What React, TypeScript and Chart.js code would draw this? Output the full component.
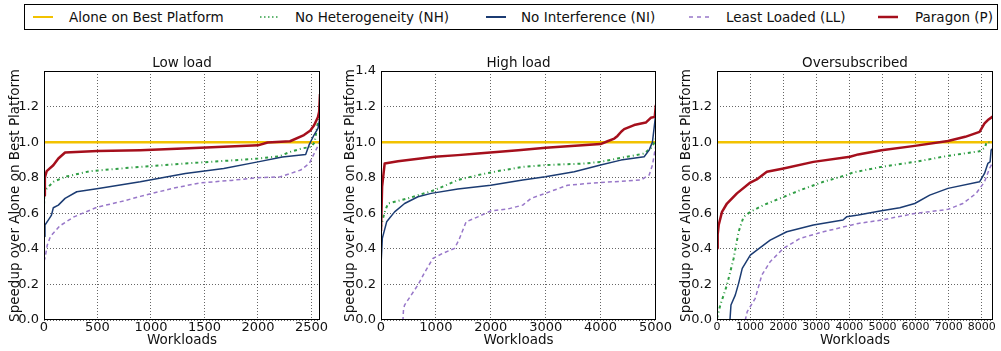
import React, { useEffect, useRef } from 'react';
import { Chart, registerables } from 'chart.js';

Chart.register(...registerables);

const FONT = '"DejaVu Sans", "Liberation Sans", sans-serif';

// ---- legend / series names ----
const seriesNames = ['Alone on Best Platform', 'No Heterogeneity (NH)', 'No Interference (NI)', 'Least Loaded (LL)', 'Paragon (P)'];
const panelTitles = ['Low load', 'High load', 'Oversubscribed'];
const xAxisTitle = 'Workloads';
const yAxisTitle = 'Speedup over Alone on Best Platform';

// ---- ticks ----
const yTicks = [0, 0.2, 0.4, 0.6, 0.8, 1.0, 1.2, 1.4];
const lowXTicks = [0, 500, 1000, 1500, 2000, 2500];
const highXTicks = [0, 1000, 2000, 3000, 4000, 5000];
const overXTicks = [0, 1000, 2000, 3000, 4000, 5000, 6000, 7000, 8000];
const lowXMax = 2580;
const highXMax = 5010;
const overXMax = 8340;
const aloneValue = 1.0;

// ---- Low load ----
const lowNH: [number, number][] = [[0, 0.65], [5, 0.7], [10, 0.73], [87, 0.777], [197, 0.805], [430, 0.837], [900, 0.861], [1320, 0.88], [1700, 0.895], [2000, 0.908], [2200, 0.92], [2300, 0.945], [2415, 0.965], [2500, 0.974], [2530, 1.0], [2555, 1.095], [2578, 1.15]];
const lowNI: [number, number][] = [[0, 0.47], [9, 0.534], [40, 0.562], [70, 0.59], [87, 0.631], [134, 0.646], [197, 0.684], [306, 0.721], [509, 0.74], [900, 0.777], [1321, 0.824], [1680, 0.852], [2000, 0.889], [2228, 0.917], [2446, 0.93], [2477, 0.983], [2524, 1.04], [2561, 1.077], [2580, 1.14]];
const lowLL: [number, number][] = [[0, 0.33], [10, 0.35], [30, 0.42], [60, 0.47], [150, 0.53], [280, 0.58], [500, 0.635], [750, 0.67], [900, 0.695], [1000, 0.71], [1200, 0.74], [1450, 0.77], [1750, 0.785], [2000, 0.8], [2210, 0.805], [2400, 0.843], [2480, 0.88], [2525, 0.935], [2578, 1.0]];
const lowP: [number, number][] = [[0, 0.7], [8, 0.8], [25, 0.837], [87, 0.87], [134, 0.908], [197, 0.942], [500, 0.95], [900, 0.955], [1300, 0.964], [2000, 0.982], [2090, 0.998], [2300, 1.005], [2430, 1.04], [2490, 1.065], [2525, 1.095], [2560, 1.14], [2572, 1.17], [2580, 1.27]];

// ---- High load ----
const highNH: [number, number][] = [[0, 0.52], [6, 0.534], [60, 0.6], [127, 0.655], [491, 0.684], [976, 0.73], [1400, 0.787], [1764, 0.815], [2127, 0.837], [2582, 0.861], [2994, 0.871], [3703, 0.88], [4000, 0.889], [4309, 0.908], [4794, 0.936], [4945, 0.974], [5008, 1.02]];
const highNI: [number, number][] = [[0, 0.31], [24, 0.459], [103, 0.552], [248, 0.608], [430, 0.655], [673, 0.693], [915, 0.712], [1400, 0.736], [2000, 0.757], [2582, 0.787], [2994, 0.805], [3521, 0.833], [4000, 0.871], [4370, 0.899], [4794, 0.918], [4885, 0.955], [4945, 1.0], [4987, 1.11], [5008, 1.17]];
const highLL: [number, number][] = [[0, 0], [400, 0], [410, 0.06], [430, 0.084], [550, 0.14], [673, 0.197], [800, 0.27], [945, 0.346], [1127, 0.375], [1340, 0.403], [1420, 0.45], [1551, 0.552], [1764, 0.58], [2006, 0.614], [2309, 0.624], [2582, 0.646], [2733, 0.684], [2994, 0.712], [3400, 0.758], [4000, 0.773], [4733, 0.787], [4885, 0.815], [4945, 0.871], [5008, 0.983]];
const highP: [number, number][] = [[0, 0.5], [20, 0.75], [67, 0.88], [309, 0.893], [976, 0.918], [1400, 0.927], [1764, 0.936], [2500, 0.955], [3000, 0.968], [4000, 0.989], [4127, 1.005], [4250, 1.02], [4309, 1.035], [4380, 1.06], [4430, 1.073], [4612, 1.096], [4824, 1.11], [4915, 1.137], [4987, 1.142], [5008, 1.21]];

// ---- Oversubscribed ----
const overNH: [number, number][] = [[0, 0.01], [100, 0.084], [301, 0.197], [502, 0.346], [653, 0.496], [803, 0.58], [1006, 0.608], [1406, 0.646], [1909, 0.684], [2512, 0.73], [3214, 0.777], [3916, 0.815], [4117, 0.83], [4970, 0.861], [5976, 0.889], [6979, 0.923], [7934, 0.949], [8100, 0.97], [8144, 1.0], [8340, 0.998]];
const overNI: [number, number][] = [[0, 0], [392, 0], [422, 0.084], [552, 0.14], [653, 0.206], [763, 0.29], [1006, 0.365], [1205, 0.393], [1607, 0.449], [2108, 0.496], [2913, 0.534], [3807, 0.562], [3916, 0.58], [4268, 0.59], [4970, 0.614], [5524, 0.631], [5976, 0.655], [6428, 0.702], [6979, 0.74], [7934, 0.777], [8084, 0.824], [8184, 0.88], [8253, 0.889], [8283, 0.955], [8340, 0.965]];
const overLL: [number, number][] = [[0, 0], [855, 0], [913, 0.047], [1156, 0.122], [1356, 0.253], [1607, 0.328], [2009, 0.403], [2512, 0.459], [3214, 0.496], [4268, 0.543], [4970, 0.562], [5976, 0.599], [6979, 0.622], [7431, 0.655], [7831, 0.712], [8084, 0.777], [8235, 0.852], [8340, 0.889]];
const overP: [number, number][] = [[0, 0.403], [20, 0.48], [51, 0.534], [151, 0.608], [301, 0.655], [602, 0.712], [1006, 0.773], [1200, 0.79], [1506, 0.833], [2009, 0.852], [2913, 0.889], [4018, 0.918], [4268, 0.931], [4970, 0.955], [5976, 0.979], [6979, 1.006], [7500, 1.03], [7934, 1.058], [8084, 1.105], [8184, 1.124], [8340, 1.145]];

// ---- styles ----
const COLORS = {
  alone: '#f2c200',
  nh: '#2f9e44',
  ni: '#1b3b72',
  ll: '#9877c9',
  p: '#a50f1c',
};

type Pt = [number, number];
interface PanelDef {
  title: string;
  xMax: number;
  xTicks: number[];
  nh: Pt[];
  ni: Pt[];
  ll: Pt[];
  p: Pt[];
  showTopY: boolean;
  left: number;
  width: number;
  yAxisWidth: number;
  rightPad: number;
  yTitlePad: number;
  xTickSize: number;
}

const panels: PanelDef[] = [
  { title: panelTitles[0], xMax: lowXMax, xTicks: lowXTicks, nh: lowNH, ni: lowNI, ll: lowLL, p: lowP, showTopY: false, left: 0, width: 345, yAxisWidth: 44, rightPad: 25, yTitlePad: 7, xTickSize: 13 },
  { title: panelTitles[1], xMax: highXMax, xTicks: highXTicks, nh: highNH, ni: highNI, ll: highLL, p: highP, showTopY: true, left: 330, width: 350, yAxisWidth: 51, rightPad: 24, yTitlePad: 12, xTickSize: 13 },
  { title: panelTitles[2], xMax: overXMax, xTicks: overXTicks, nh: overNH, ni: overNI, ll: overLL, p: overP, showTopY: false, left: 665, width: 336, yAxisWidth: 52, rightPad: 8, yTitlePad: 13, xTickSize: 11 },
];

const CANVAS_TOP = 50;
const CANVAS_H = 301;

const framePlugin = {
  id: 'frame',
  afterDatasetsDraw(chart: any) {
    const { ctx, chartArea: a } = chart;
    ctx.save();
    ctx.strokeStyle = '#000';
    ctx.lineWidth = 1;
    ctx.setLineDash([]);
    ctx.strokeRect(a.left + 0.5, a.top + 0.5, a.right - a.left - 1, a.bottom - a.top - 1);
    ctx.restore();
  },
};

const toXY = (arr: Pt[]) => arr.map(([x, y]) => ({ x, y }));

function Panel({ def }: { def: PanelDef }) {
  const ref = useRef<HTMLCanvasElement | null>(null);
  useEffect(() => {
    if (!ref.current) return;
    const line = (label: string, data: Pt[], color: string, width: number, dash: number[], order: number) => ({
      label,
      data: toXY(data),
      borderColor: color,
      backgroundColor: color,
      borderWidth: width,
      borderDash: dash,
      pointRadius: 0,
      pointHoverRadius: 0,
      fill: false,
      tension: 0,
      order,
      borderJoinStyle: 'round' as const,
    });
    const chart = new Chart(ref.current, {
      type: 'line',
      data: {
        datasets: [
          line(seriesNames[0], [[0, aloneValue], [def.xMax, aloneValue]], COLORS.alone, 2.5, [], 5),
          line(seriesNames[1], def.nh, COLORS.nh, 2, [3, 3, 1, 3], 4),
          line(seriesNames[2], def.ni, COLORS.ni, 1.5, [], 3),
          line(seriesNames[3], def.ll, COLORS.ll, 1.5, [4, 3], 2),
          line(seriesNames[4], def.p, COLORS.p, 2.5, [], 1),
        ],
      },
      options: {
        animation: false,
        responsive: false,
        events: [],
        layout: { padding: { left: 0, right: def.rightPad, top: 5, bottom: 0 } },
        plugins: {
          legend: { display: false },
          tooltip: { enabled: false },
          title: {
            display: true,
            text: def.title,
            fullSize: false,
            color: '#111',
            font: { family: FONT, size: 13.5, weight: 'normal', lineHeight: 16 / 13.5 },
            padding: { top: 0, bottom: 0 },
          },
        },
        scales: {
          x: {
            type: 'linear',
            min: 0,
            max: def.xMax,
            afterBuildTicks: (s: any) => { s.ticks = def.xTicks.map((v) => ({ value: v })); },
            afterFit: (s: any) => { s.height = 31; s.paddingLeft = 0; s.paddingRight = 0; },
            ticks: {
              color: '#111',
              font: { family: FONT, size: def.xTickSize },
              padding: def.xTickSize === 13 ? 0 : 1,
              maxRotation: 0,
              autoSkip: false,
              callback: (v: any) => String(v),
            },
            grid: { color: 'rgba(0,0,0,0.6)', lineWidth: 1, drawTicks: false },
            border: { display: false, dash: [1, 2] },
            title: {
              display: true,
              text: xAxisTitle,
              color: '#111',
              font: { family: FONT, size: 13.5, lineHeight: 16 / 13.5 },
              padding: { top: 0, bottom: 3 },
            },
          },
          y: {
            type: 'linear',
            min: 0,
            max: 1.4,
            afterBuildTicks: (s: any) => { s.ticks = yTicks.map((v) => ({ value: v })); },
            afterFit: (s: any) => { s.width = def.yAxisWidth; s.paddingTop = 0; s.paddingBottom = 0; },
            ticks: {
              color: '#111',
              font: { family: FONT, size: 13 },
              padding: 5,
              autoSkip: false,
              callback: (v: any) => (Math.abs(v - 1.4) < 1e-9 && !def.showTopY ? '' : Number(v).toFixed(1)),
            },
            grid: { color: 'rgba(0,0,0,0.6)', lineWidth: 1, drawTicks: false },
            border: { display: false, dash: [1, 2] },
            title: {
              display: true,
              text: yAxisTitle,
              color: '#111',
              font: { family: FONT, size: 13.5, lineHeight: 16 / 13.5 },
              padding: { top: def.yTitlePad, bottom: 0 },
            },
          },
        },
      },
      plugins: [framePlugin],
    } as any);
    return () => chart.destroy();
  }, [def]);
  return (
    <canvas
      ref={ref}
      width={def.width}
      height={CANVAS_H}
      style={{ position: 'absolute', left: def.left, top: CANVAS_TOP, width: def.width, height: CANVAS_H }}
    />
  );
}

const legendLinePos = [33, 260, 486, 689, 878];
const legendTextPos = [69, 295, 521, 726, 915];
const legendStyles = [
  { color: COLORS.alone, width: 2, dash: '' },
  { color: COLORS.nh, width: 1.5, dash: '1.5 2.5' },
  { color: COLORS.ni, width: 2, dash: '' },
  { color: COLORS.ll, width: 1.5, dash: '4 4' },
  { color: COLORS.p, width: 2.5, dash: '' },
];

function Legend() {
  const boxLeft = 24;
  return (
    <div
      style={{
        position: 'absolute', left: boxLeft, top: 4, width: 974, height: 26,
        border: '1px solid #000', boxSizing: 'border-box', background: '#fff',
      }}
    >
      {seriesNames.map((name, i) => (
        <React.Fragment key={name}>
          <svg
            width={20}
            height={6}
            style={{ position: 'absolute', left: legendLinePos[i] - boxLeft - 1, top: 9 }}
          >
            <line
              x1={0} y1={3} x2={20} y2={3}
              stroke={legendStyles[i].color}
              strokeWidth={legendStyles[i].width}
              strokeDasharray={legendStyles[i].dash || undefined}
            />
          </svg>
          <span
            style={{
              position: 'absolute', left: legendTextPos[i] - boxLeft - 1, top: 0,
              lineHeight: '24px', fontSize: 13.5, fontFamily: FONT, color: '#111', whiteSpace: 'nowrap',
            }}
          >
            {name}
          </span>
        </React.Fragment>
      ))}
    </div>
  );
}

export default function App() {
  return (
    <div style={{ position: 'absolute', left: 0, top: 0, width: 1001, height: 351, background: '#fff', overflow: 'hidden' }}>
      <Legend />
      {panels.map((p) => (
        <Panel key={p.title} def={p} />
      ))}
    </div>
  );
}
